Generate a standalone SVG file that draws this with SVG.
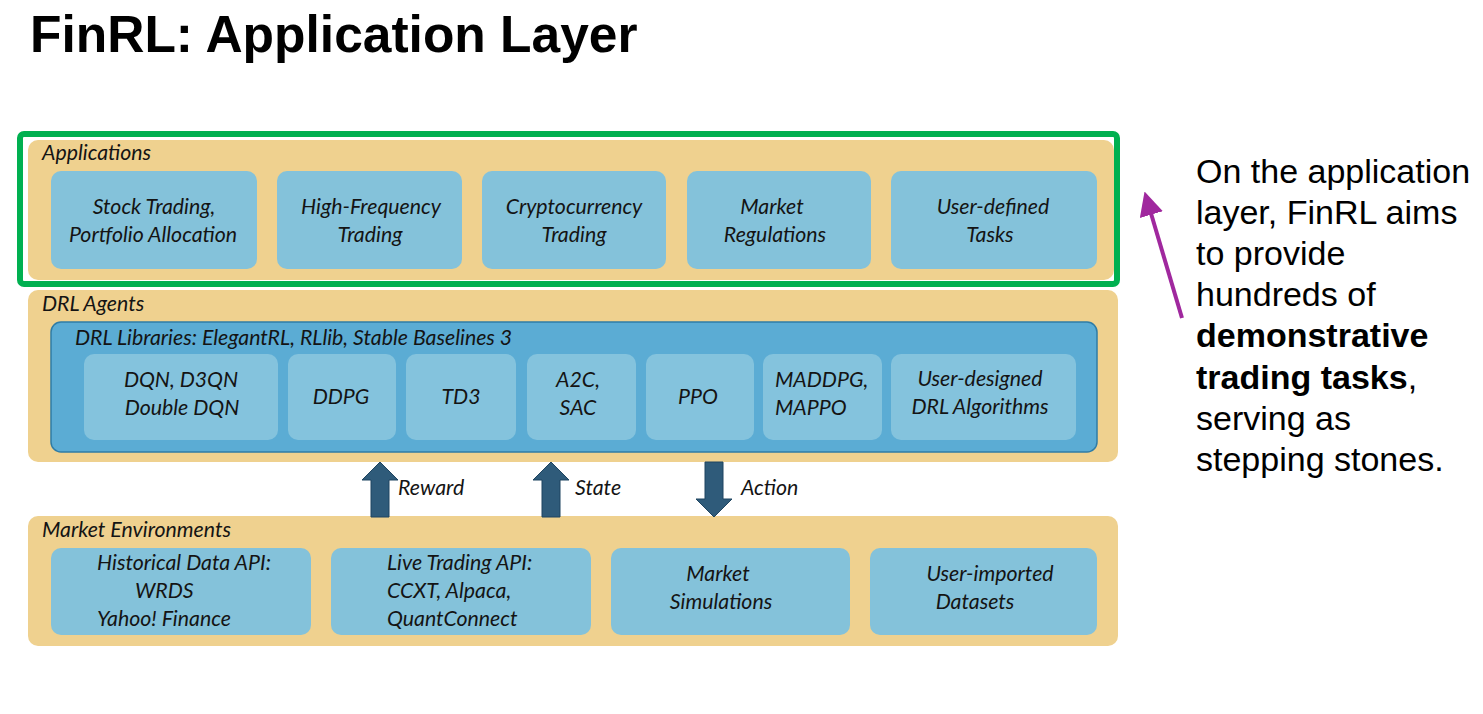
<svg xmlns="http://www.w3.org/2000/svg" width="1483" height="714" viewBox="0 0 1483 714">
<defs>
<style>
.layer{fill:#EFD18F;}
.app{fill:#84C2DA;}
.lib{fill:#5BACD4;stroke:#2F7CA6;stroke-width:1.5;}
.alg{fill:#84C3DD;}
.t{font-family:Lato,"Liberation Sans",sans-serif;font-style:italic;fill:#141414;font-size:21.3px;}
.c{text-anchor:middle;}
.arr{fill:#2F5B7A;stroke:#1F4560;stroke-width:1;}
.side{font-family:"Liberation Sans",Arial,sans-serif;font-size:34px;fill:#000;}
</style>
<marker id="pm" viewBox="0 0 10 10" refX="2" refY="5" markerWidth="6" markerHeight="6" orient="auto-start-reverse" markerUnits="strokeWidth">
<path d="M0,0 L10,5 L0,10 z" fill="#A0289E"/>
</marker>
</defs>
<rect width="1483" height="714" fill="#fff"/>
<text x="30" y="52" font-family="'Liberation Sans',Arial,sans-serif" font-weight="bold" font-size="51.5" fill="#000">FinRL: Application Layer</text>

<g id="applications">
<rect class="layer" x="28" y="140" width="1086" height="140" rx="10"/>
<text class="t" x="42" y="160">Applications</text>
<g id="app-stock"><rect class="app" x="51" y="171" width="206" height="98" rx="10"/>
<text class="t c" x="154" y="214">Stock Trading,</text><text class="t c" x="153" y="242">Portfolio Allocation</text></g>
<g id="app-hft"><rect class="app" x="277" y="171" width="185" height="98" rx="10"/>
<text class="t c" x="371" y="214">High-Frequency</text><text class="t c" x="370" y="242">Trading</text></g>
<g id="app-crypto"><rect class="app" x="482" y="171" width="184" height="98" rx="10"/>
<text class="t c" x="574" y="214">Cryptocurrency</text><text class="t c" x="574" y="242">Trading</text></g>
<g id="app-reg"><rect class="app" x="687" y="171" width="184" height="98" rx="10"/>
<text class="t c" x="772" y="214">Market</text><text class="t c" x="775" y="242">Regulations</text></g>
<g id="app-user"><rect class="app" x="891" y="171" width="206" height="98" rx="10"/>
<text class="t c" x="993" y="214">User-defined</text><text class="t c" x="990" y="242">Tasks</text></g>
</g>

<rect id="highlight" x="20" y="134" width="1097" height="150" rx="4" fill="none" stroke="#00B050" stroke-width="6"/>

<g id="drl-agents">
<rect class="layer" x="28" y="290" width="1090" height="172" rx="10"/>
<text class="t" x="42" y="311">DRL Agents</text>
<rect class="lib" x="51" y="322" width="1046" height="130" rx="10"/>
<text class="t" x="75" y="345">DRL Libraries: ElegantRL, RLlib, Stable Baselines 3</text>
<g id="alg-dqn"><rect class="alg" x="84" y="354" width="194" height="86" rx="10"/>
<text class="t c" x="181" y="387">DQN, D3QN</text><text class="t c" x="182" y="415">Double DQN</text></g>
<g id="alg-ddpg"><rect class="alg" x="288" y="354" width="108" height="86" rx="10"/>
<text class="t c" x="341" y="404">DDPG</text></g>
<g id="alg-td3"><rect class="alg" x="406" y="354" width="110" height="86" rx="10"/>
<text class="t c" x="461" y="404">TD3</text></g>
<g id="alg-a2c"><rect class="alg" x="527" y="354" width="109" height="86" rx="10"/>
<text class="t c" x="578" y="387">A2C,</text><text class="t c" x="578" y="415">SAC</text></g>
<g id="alg-ppo"><rect class="alg" x="646" y="354" width="108" height="86" rx="10"/>
<text class="t c" x="698" y="404">PPO</text></g>
<g id="alg-ma"><rect class="alg" x="763" y="354" width="119" height="86" rx="10"/>
<text class="t" x="775" y="387">MADDPG,</text><text class="t" x="775" y="415">MAPPO</text></g>
<g id="alg-user"><rect class="alg" x="891" y="354" width="185" height="86" rx="10"/>
<text class="t c" x="980" y="386">User-designed</text><text class="t c" x="980" y="414">DRL Algorithms</text></g>
</g>

<g id="market-env">
<rect class="layer" x="28" y="516" width="1090" height="130" rx="10"/>
<text class="t" x="42" y="537">Market Environments</text>
<g id="env-hist"><rect class="app" x="51" y="548" width="260" height="87" rx="10"/>
<text class="t" x="97" y="570">Historical Data API:</text><text class="t" x="135" y="598">WRDS</text><text class="t" x="97" y="626">Yahoo! Finance</text></g>
<g id="env-live"><rect class="app" x="331" y="548" width="260" height="87" rx="10"/>
<text class="t" x="387" y="570">Live Trading API:</text><text class="t" x="387" y="598">CCXT, Alpaca,</text><text class="t" x="387" y="626">QuantConnect</text></g>
<g id="env-sim"><rect class="app" x="611" y="548" width="239" height="87" rx="10"/>
<text class="t c" x="718" y="581">Market</text><text class="t c" x="721" y="609">Simulations</text></g>
<g id="env-user"><rect class="app" x="870" y="548" width="227" height="87" rx="10"/>
<text class="t c" x="990" y="581">User-imported</text><text class="t c" x="975" y="609">Datasets</text></g>
</g>

<g id="connectors">
<path class="arr" d="M371,517 L371,480 L362,480 L380,462 L398,480 L389,480 L389,517 Z"/>
<path class="arr" d="M542,517 L542,480 L533,480 L551,462 L569,480 L560,480 L560,517 Z"/>
<path class="arr" d="M705,462 L705,499 L696,499 L714,517 L732,499 L723,499 L723,462 Z"/>
<text class="t" x="398" y="495">Reward</text>
<text class="t" x="575" y="495">State</text>
<text class="t" x="741" y="495">Action</text>
<line x1="1182" y1="318" x2="1150" y2="210" stroke="#A0289E" stroke-width="4" marker-end="url(#pm)"/>
</g>

<g id="note">
<text class="side" x="1196" y="183">On the application</text>
<text class="side" x="1196" y="224">layer, FinRL aims</text>
<text class="side" x="1196" y="265">to provide</text>
<text class="side" x="1196" y="306">hundreds of</text>
<text class="side" x="1196" y="347" font-weight="bold">demonstrative</text>
<text class="side" x="1196" y="389"><tspan font-weight="bold">trading tasks</tspan>,</text>
<text class="side" x="1196" y="430">serving as</text>
<text class="side" x="1196" y="471">stepping stones.</text>
</g>
</svg>
